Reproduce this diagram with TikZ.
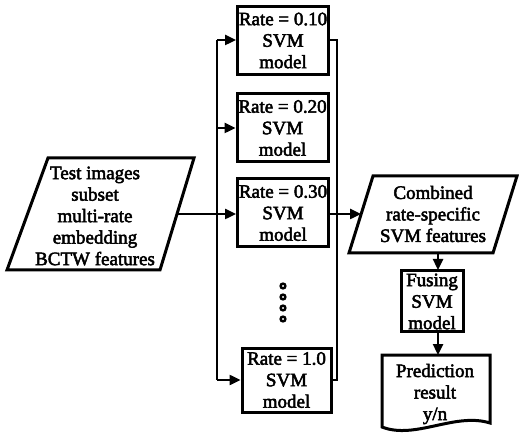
\documentclass[tikz,border=0pt]{standalone}
\usepackage{fontspec}
\setmainfont{Liberation Serif}[BoldFont={Liberation Serif},BoldFeatures={FakeBold=2.6}]
\usetikzlibrary{arrows.meta}
\begin{document}
\begin{tikzpicture}[x=1pt,y=-1pt,
  txt/.style={font=\fontsize{19}{21.5}\selectfont\bfseries, align=center, inner sep=0pt},
  svmbox/.style={txt, draw, line width=3pt, minimum width=91pt, minimum height=68pt},
  ln/.style={line width=2.4pt},
  shp/.style={line width=3pt, line join=miter},
  arr/.style={ln, -{Triangle[length=11pt,width=10pt]}},
  dot/.style={line width=2.4pt}]
\useasboundingbox (0,0) rectangle (519,435);

% SVM boxes
\node[svmbox] (b1) at (283,40.5) {Rate = 0.10\\SVM\\model};
\node[svmbox] (b2) at (282.5,128) {Rate = 0.20\\SVM\\model};
\node[svmbox] (b3) at (283,213) {Rate = 0.30\\SVM\\model};
\node[svmbox, minimum width=89pt, minimum height=64pt] (b4) at (286.5,380) {Rate = 1.0\\SVM\\model};

% input parallelogram
\draw[shp] (48,158) -- (194,158) -- (160,270) -- (7,270) -- cycle;
\node[txt] (inp) at (95,216) {Test images\\subset\\multi-rate\\embedding\\BCTW features};
\coordinate (inpR) at (177,214);

% combined parallelogram
\draw[shp] (373,176) -- (517,176) -- (493,253) -- (349,253) -- cycle;
\node[txt] (comb) at (433,214) {Combined\\rate-specific\\SVM features};
\coordinate (combL) at (361,214);
\coordinate (combB) at (438,253);

% fusing box
\node[txt, draw, line width=3pt, minimum width=62pt, minimum height=61pt] (fus) at (432,301.5) {Fusing\\SVM\\model};
\coordinate (fusT) at (438,270);
\coordinate (fusB) at (438,333);

% prediction document
\draw[shp] (382,427) -- (382,355) -- (490,355) -- (490,423)
  .. controls (455,412) and (415,440) .. cycle;
\node[txt] (pred) at (435,394) {Prediction\\result\\y/n};
\coordinate (predT) at (438,355);

% left distribution line
\coordinate (l1) at (217,40);
\coordinate (l2) at (217,128);
\coordinate (l4) at (217,380);
\draw[ln] (l1) -- (l4);
\draw[arr] (l1) -- (b1.west |- l1);
\draw[arr] (l2) -- (b2.west);
\draw[arr] (l4) -- (b4.west);
\draw[arr] (inpR) -- (b3.west |- inpR);

% right collecting line
\coordinate (r1) at (337,40);
\coordinate (r4) at (337,380);
\draw[ln] (b1.east |- r1) -- (r1) -- (r4) -- (b4.east);
\draw[arr] (b3.east |- combL) -- (combL);

% downstream
\draw[arr] (combB) -- (fusT);
\draw[arr] (fusB) -- (predT);

% dots
\foreach \yy in {286,297,308,319}
  \draw[dot] (283,\yy) circle (2.4);
\end{tikzpicture}
\end{document}
